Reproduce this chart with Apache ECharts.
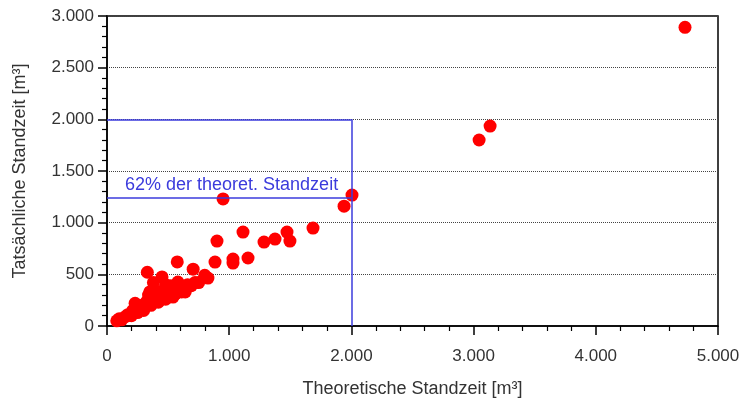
<!DOCTYPE html>
<html>
<head>
<meta charset="utf-8">
<script src="https://cdn.jsdelivr.net/npm/echarts@6/dist/echarts.min.js"></script>
<style>html,body{margin:0;padding:0;background:#fff}#c{width:744px;height:405px}</style>
</head>
<body>
<div id="c"></div>
<script>
// Data
var theoretisch = [80,100,120,150,170,200,210,230,250,260,270,290,300,310,320,330,340,340,350,360,370,380,390,400,410,420,430,440,450,460,470,480,480,500,520,520,540,560,560,575,580,600,610,620,640,660,690,705,720,750,800,826,884,900,950,1031,1031,1113,1154,1285,1375,1473,1497,1686,1940,2005,3045,3135,4730];
var tatsaechlich = [50,70,60,90,110,100,150,220,130,160,180,200,150,200,230,520,260,300,330,200,280,420,300,250,300,230,330,280,475,320,350,260,400,300,340,390,280,310,380,620,425,350,330,380,330,400,390,550,420,420,490,464,619,822,1230,648,609,909,658,812,841,909,822,948,1160,1267,1800,1935,2890];
var xTicks = [0,1000,2000,3000,4000,5000];
var yTicks = [0,500,1000,1500,2000,2500,3000];
var refLimit = 2000;
var refValue = 1240;
var refText = '62% der theoret. Standzeit';

var points = theoretisch.map(function(x,i){return [x, tatsaechlich[i]];});
function fmt(v){return String(v).replace(/\B(?=(\d{3})+(?!\d))/g,'.');}
var blue = '#3b3bdc';
var font = 'Liberation Sans, Arial, sans-serif';

var chart = echarts.init(document.getElementById('c'));
chart.setOption({
  animation:false,
  grid:{left:107,right:26,top:16,bottom:79,show:true,borderColor:'#000',borderWidth:1.5,backgroundColor:'transparent'},
  xAxis:{
    type:'value',min:xTicks[0],max:xTicks[xTicks.length-1],interval:1000,
    name:'Theoretische Standzeit [m³]',nameLocation:'middle',nameGap:54,
    nameTextStyle:{fontFamily:font,fontSize:18,color:'#333'},
    axisLine:{lineStyle:{color:'#000',width:1.5}},
    axisTick:{length:9,lineStyle:{color:'#000',width:1.5}},
    minorTick:{show:true,splitNumber:5,length:5,lineStyle:{color:'#000',width:1.2}},
    axisLabel:{formatter:fmt,fontFamily:font,fontSize:17,color:'#333',margin:22},
    splitLine:{show:false}
  },
  yAxis:{
    type:'value',min:yTicks[0],max:yTicks[yTicks.length-1],interval:500,
    name:'Tatsächliche Standzeit [m³]',nameLocation:'middle',nameGap:78,
    nameTextStyle:{fontFamily:font,fontSize:18,color:'#333'},
    axisLine:{show:true,lineStyle:{color:'#000',width:1.5}},
    axisTick:{show:true,length:9,lineStyle:{color:'#000',width:1.5}},
    minorTick:{show:true,splitNumber:5,length:5,lineStyle:{color:'#000',width:1.2}},
    axisLabel:{formatter:fmt,fontFamily:font,fontSize:17,color:'#333',margin:13},
    splitLine:{show:true,lineStyle:{type:'dotted',color:'#444',width:1}}
  },
  series:[{
    type:'scatter',
    data:points,
    symbolSize:13,
    itemStyle:{color:'#ff0000',opacity:1},
    markLine:{
      silent:true,symbol:'none',animation:false,
      lineStyle:{color:blue,width:1.5,type:'solid'},
      label:{show:false},
      data:[
        [{coord:[0,refLimit]},{coord:[refLimit,refLimit]}],
        [{coord:[refLimit,0]},{coord:[refLimit,refLimit]}],
        [{coord:[0,refValue],label:{show:true,position:'insideStartTop',formatter:refText,color:blue,fontFamily:font,fontSize:18,distance:[18,4]}},{coord:[refLimit,refValue]}]
      ]
    }
  }]
});
</script>
</body>
</html>
